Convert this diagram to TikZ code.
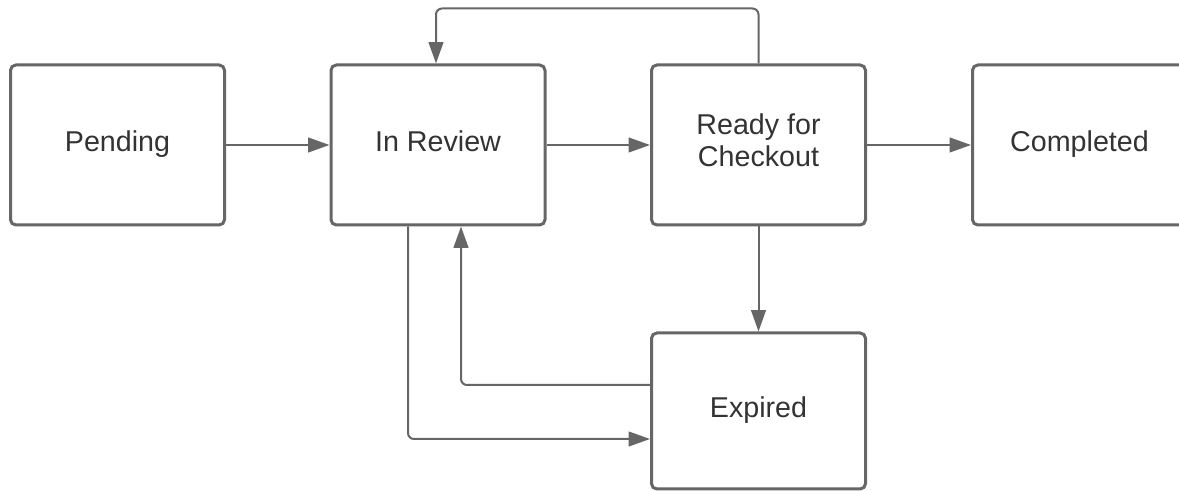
\documentclass[tikz,border=0pt]{standalone}
\usepackage{fontspec}
\setmainfont{Liberation Sans}
\usetikzlibrary{arrows.meta,calc}
\definecolor{linegray}{HTML}{666666}
\definecolor{textgray}{HTML}{333333}

\begin{document}
\begin{tikzpicture}[x=0.75pt,y=-0.75pt,
    state/.style={draw=linegray, line width=2.25pt, rounded corners=4pt,
      minimum width=160.5pt, minimum height=120pt, inner sep=0pt,
      text=textgray, align=center, font=\fontsize{21.5}{24.5}\selectfont,
      execute at begin node=\strut},
    flow/.style={draw=linegray, line width=1.5pt, rounded corners=4.5pt,
      -{Triangle[length=16pt,width=11pt]}}]
		% Marco de la imagen
		\useasboundingbox (0,0) rectangle (1179,491);
		\clip (0,0) rectangle (1179,491);
		
		% Estados
		\node[state] (pending) at (117.5, 145) {Pending};
		\node[state] (review) at (438, 145) {In Review};
		\node[state] (ready) at (758.5, 145) {Ready for\\Checkout};
		\node[state] (completed) at (1079.5, 145) {Completed};
		\node[state, minimum height=117pt] (expired) at (758.5, 411) {Expired};
		
		% Transiciones principales
		\draw[flow] (pending.east) -- (review.west);
		\draw[flow] (review.east) -- (ready.west);
		\draw[flow] (ready.east) -- (completed.west);
		\draw[flow] (ready.south) -- (expired.north);
		
		% Vuelta de Ready for Checkout a In Review
		\draw[flow] (ready.north) -- ++(0,-55) -| ($(review.north)+(-2,0)$);
		
		% Entre In Review y Expired
		\draw[flow] ($(expired.west)+(0,-26)$) -| ($(review.south)+(23,0)$);
		\draw[flow] ($(review.south)+(-30,0)$) |- ($(expired.west)+(0,28)$);
\end{tikzpicture}
\end{document}
